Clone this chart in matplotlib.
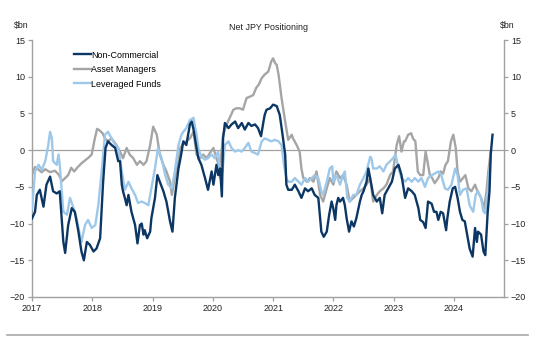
import matplotlib.pyplot as plt
from matplotlib.lines import Line2D

plt.rcParams['font.family'] = ['Liberation Sans', 'DejaVu Sans']

# decimal years and $bn values
nc_t = [2017.00, 2017.05, 2017.08, 2017.13, 2017.19, 2017.24, 2017.30, 2017.35, 2017.41, 2017.46,
        2017.52, 2017.55, 2017.60, 2017.66, 2017.71, 2017.77, 2017.82, 2017.86, 2017.91, 2017.96,
        2018.02, 2018.07, 2018.13, 2018.18, 2018.22, 2018.26, 2018.32, 2018.38, 2018.43, 2018.46,
        2018.49, 2018.51, 2018.54, 2018.57, 2018.60, 2018.62, 2018.65, 2018.71, 2018.75, 2018.79,
        2018.82, 2018.85, 2018.87, 2018.91, 2018.96, 2018.98, 2019.04, 2019.08, 2019.12, 2019.18,
        2019.23, 2019.29, 2019.33, 2019.37, 2019.43, 2019.47, 2019.51, 2019.56, 2019.62, 2019.65,
        2019.68, 2019.73, 2019.76, 2019.81, 2019.87, 2019.92, 2019.98, 2020.01, 2020.06, 2020.09,
        2020.12, 2020.15, 2020.17, 2020.20, 2020.26, 2020.31, 2020.37, 2020.42, 2020.48, 2020.53,
        2020.59, 2020.64, 2020.70, 2020.75, 2020.80, 2020.84, 2020.86, 2020.89, 2020.95, 2021.00,
        2021.06, 2021.11, 2021.15, 2021.20, 2021.22, 2021.25, 2021.31, 2021.36, 2021.42, 2021.47,
        2021.53, 2021.58, 2021.64, 2021.69, 2021.75, 2021.78, 2021.80, 2021.84, 2021.89, 2021.93,
        2021.97, 2022.00, 2022.03, 2022.05, 2022.08, 2022.11, 2022.16, 2022.19, 2022.22, 2022.26,
        2022.30, 2022.34, 2022.38, 2022.44, 2022.47, 2022.50, 2022.55, 2022.58, 2022.61, 2022.63,
        2022.66, 2022.72, 2022.77, 2022.81, 2022.85, 2022.91, 2022.97, 2023.02, 2023.08, 2023.13,
        2023.19, 2023.24, 2023.30, 2023.35, 2023.41, 2023.44, 2023.49, 2023.53, 2023.57, 2023.63,
        2023.67, 2023.71, 2023.74, 2023.78, 2023.82, 2023.87, 2023.89, 2023.93, 2023.98, 2024.02,
        2024.06, 2024.10, 2024.14, 2024.18, 2024.23, 2024.26, 2024.31, 2024.35, 2024.38, 2024.40,
        2024.45, 2024.49, 2024.52, 2024.56, 2024.59, 2024.61, 2024.64]
nc_v = [-9.3, -8.4, -6.1, -5.4, -7.7, -4.7, -3.6, -5.6, -5.9, -5.6,
        -12.5, -14.0, -10.2, -7.9, -8.4, -11.1, -13.8, -15.0, -12.5, -12.9,
        -13.8, -13.4, -12.0, -4.3, 0.3, 1.2, 0.7, 0.3, -1.5, -1.5,
        -4.7, -5.6, -6.5, -7.5, -6.1, -7.0, -8.4, -10.2, -12.7, -10.2,
        -10.0, -11.5, -10.9, -12.0, -11.1, -9.3, -6.5, -3.4, -4.3, -5.6,
        -7.0, -9.7, -11.1, -6.5, -2.5, -0.8, 1.2, 0.7, 3.5, 3.9,
        2.8, 0.3, -1.1, -2.0, -3.8, -5.4, -2.9, -4.7, -2.0, -3.4,
        -2.5, -6.3, 1.6, 3.7, 3.0, 3.5, 3.9, 3.0, 3.7, 2.8,
        3.7, 3.3, 3.5, 3.0, 1.9, 3.9, 4.8, 5.5, 5.7, 6.2,
        6.0, 4.8, 2.5, -0.6, -4.7, -5.4, -5.4, -4.7, -5.6, -6.5,
        -5.2, -5.6, -5.2, -6.1, -6.5, -9.3, -11.1, -11.8, -11.1, -8.8,
        -7.0, -8.0, -9.5, -7.5, -6.5, -7.0, -6.5, -7.5, -9.3, -11.1,
        -9.7, -10.4, -9.3, -7.0, -6.1, -5.6, -4.3, -2.5, -3.8, -4.7,
        -6.1, -7.0, -6.5, -8.6, -6.1, -5.2, -4.3, -2.5, -2.0, -3.4,
        -6.5, -5.2, -5.6, -6.1, -7.9, -9.5, -9.8, -10.6, -7.0, -7.3,
        -8.4, -8.4, -9.5, -8.4, -8.6, -10.9, -9.3, -7.0, -5.2, -5.0,
        -6.5, -8.4, -9.5, -9.7, -12.0, -13.4, -14.5, -10.6, -12.5, -11.1,
        -11.5, -13.8, -14.3, -8.4, -5.6, -0.6, 2.1]

am_t = [2017.00, 2017.05, 2017.10, 2017.16, 2017.22, 2017.30, 2017.38, 2017.44, 2017.50, 2017.55,
        2017.60, 2017.65, 2017.70, 2017.76, 2017.82, 2017.88, 2017.94, 2017.99, 2018.04, 2018.08,
        2018.12, 2018.17, 2018.21, 2018.26, 2018.32, 2018.40, 2018.46, 2018.51, 2018.57, 2018.62,
        2018.68, 2018.74, 2018.79, 2018.85, 2018.90, 2018.96, 2019.01, 2019.07, 2019.12, 2019.18,
        2019.23, 2019.29, 2019.32, 2019.37, 2019.43, 2019.46, 2019.51, 2019.56, 2019.62, 2019.68,
        2019.73, 2019.79, 2019.84, 2019.90, 2019.95, 2020.01, 2020.06, 2020.12, 2020.17, 2020.23,
        2020.28, 2020.34, 2020.39, 2020.45, 2020.50, 2020.56, 2020.62, 2020.67, 2020.72, 2020.76,
        2020.81, 2020.86, 2020.92, 2020.97, 2021.00, 2021.03, 2021.06, 2021.09, 2021.14, 2021.20,
        2021.25, 2021.31, 2021.33, 2021.39, 2021.44, 2021.47, 2021.50, 2021.56, 2021.61, 2021.67,
        2021.72, 2021.78, 2021.83, 2021.89, 2021.94, 2022.00, 2022.05, 2022.11, 2022.16, 2022.22,
        2022.27, 2022.33, 2022.38, 2022.44, 2022.50, 2022.55, 2022.61, 2022.66, 2022.72, 2022.77,
        2022.83, 2022.88, 2022.94, 2022.99, 2023.05, 2023.09, 2023.13, 2023.17, 2023.19, 2023.24,
        2023.29, 2023.32, 2023.36, 2023.40, 2023.44, 2023.49, 2023.53, 2023.56, 2023.60, 2023.64,
        2023.68, 2023.74, 2023.78, 2023.82, 2023.86, 2023.90, 2023.95, 2023.99, 2024.03, 2024.06,
        2024.10, 2024.15, 2024.19, 2024.24, 2024.29, 2024.35, 2024.39, 2024.45, 2024.50, 2024.54,
        2024.57, 2024.61]
am_v = [-3.4, -2.3, -2.6, -3.0, -2.6, -3.0, -2.8, -3.3, -4.2, -3.8,
        -3.4, -2.4, -2.9, -2.3, -1.8, -1.4, -1.0, -0.6, 1.5, 2.9,
        2.7, 2.3, 1.6, 1.2, 1.6, 0.7, -0.2, -1.1, 0.3, -0.6,
        -1.1, -2.0, -1.5, -2.0, -1.5, 0.7, 3.2, 2.1, -0.6, -2.0,
        -2.9, -4.3, -6.1, -3.8, -1.5, 0.3, 1.0, 1.2, 1.6, 2.5,
        -0.6, -1.1, -0.6, -1.1, -0.4, 0.3, -1.1, -2.5, 2.1, 3.5,
        4.4, 5.5, 5.7, 5.7, 5.5, 7.1, 7.3, 7.5, 8.5, 8.9,
        9.8, 10.3, 10.7, 12.1, 12.5, 11.9, 11.6, 10.3, 7.1, 3.9,
        1.4, 2.1, 1.6, 0.7, -0.2, -2.5, -3.8, -4.3, -3.8, -4.3,
        -2.9, -6.1, -7.0, -5.2, -3.8, -4.7, -2.9, -3.8, -3.4, -4.7,
        -7.0, -6.5, -6.1, -5.6, -5.2, -4.7, -3.8, -7.0, -6.1, -5.6,
        -5.2, -4.7, -3.4, -2.9, 0.7, 1.9, -0.2, 1.2, 1.2, 2.1,
        2.3, 1.6, 1.2, -2.9, -3.4, -3.4, -0.2, -1.5, -3.4, -3.8,
        -4.5, -3.8, -2.9, -3.2, -2.0, -1.5, 1.2, 2.1, 0.3, -2.9,
        -4.3, -3.8, -3.4, -5.2, -5.6, -4.7, -5.6, -6.5, -7.9, -5.6,
        -2.9, -0.2]

lf_t = [2017.00, 2017.03, 2017.05, 2017.11, 2017.16, 2017.22, 2017.27, 2017.30, 2017.33, 2017.35,
        2017.41, 2017.44, 2017.46, 2017.52, 2017.58, 2017.63, 2017.69, 2017.74, 2017.80, 2017.82,
        2017.88, 2017.93, 2017.99, 2018.05, 2018.10, 2018.16, 2018.21, 2018.26, 2018.32, 2018.38,
        2018.43, 2018.49, 2018.54, 2018.60, 2018.65, 2018.71, 2018.76, 2018.82, 2018.87, 2018.93,
        2018.98, 2019.04, 2019.09, 2019.15, 2019.21, 2019.26, 2019.32, 2019.37, 2019.43, 2019.48,
        2019.51, 2019.56, 2019.62, 2019.68, 2019.70, 2019.73, 2019.76, 2019.81, 2019.87, 2019.92,
        2019.98, 2020.03, 2020.09, 2020.12, 2020.16, 2020.20, 2020.26, 2020.31, 2020.37, 2020.42,
        2020.48, 2020.53, 2020.59, 2020.64, 2020.70, 2020.75, 2020.81, 2020.86, 2020.92, 2020.97,
        2021.03, 2021.09, 2021.14, 2021.18, 2021.22, 2021.25, 2021.31, 2021.36, 2021.42, 2021.47,
        2021.53, 2021.58, 2021.64, 2021.69, 2021.75, 2021.80, 2021.83, 2021.89, 2021.94, 2021.98,
        2022.00, 2022.05, 2022.11, 2022.16, 2022.19, 2022.23, 2022.27, 2022.33, 2022.38, 2022.44,
        2022.50, 2022.55, 2022.61, 2022.63, 2022.66, 2022.72, 2022.77, 2022.83, 2022.88, 2022.94,
        2022.99, 2023.03, 2023.08, 2023.13, 2023.19, 2023.24, 2023.30, 2023.35, 2023.41, 2023.46,
        2023.52, 2023.57, 2023.63, 2023.68, 2023.74, 2023.79, 2023.85, 2023.90, 2023.96, 2024.02,
        2024.06, 2024.10, 2024.15, 2024.21, 2024.26, 2024.32, 2024.36, 2024.40, 2024.45, 2024.49,
        2024.52, 2024.56, 2024.60, 2024.61]
lf_v = [-8.0, -5.0, -2.9, -2.0, -2.7, -1.5, 0.7, 2.5, 1.6, -1.5,
        -2.0, -0.6, -2.0, -8.4, -8.8, -6.5, -7.9, -9.3, -11.8, -12.5,
        -10.2, -9.5, -10.6, -10.2, -7.5, -2.5, 2.1, 2.5, 1.6, 0.7,
        0.3, -2.9, -5.4, -4.3, -5.2, -6.1, -7.2, -7.0, -7.2, -7.5,
        -5.2, -2.5, 0.3, -1.1, -3.4, -4.7, -5.2, -2.9, 0.7, 2.1,
        2.5, 3.0, 4.1, 4.4, 3.4, 2.1, 0.3, -0.9, -1.3, -1.1,
        -0.6, -1.1, -0.2, -3.8, -2.9, 0.7, 1.2, 0.3, -0.2, 0.0,
        -0.2, 0.3, 1.0, -0.2, -0.4, -0.6, 1.2, 1.6, 1.4, 1.2,
        1.4, 1.2, 0.7, -2.0, -3.8, -4.3, -4.3, -3.8, -4.3, -4.7,
        -3.8, -4.3, -3.8, -3.4, -3.8, -5.6, -6.1, -4.3, -2.5, -2.2,
        -4.3, -3.4, -4.7, -3.4, -2.9, -6.5, -7.0, -6.1, -6.1, -4.7,
        -3.8, -2.9, -0.9, -1.1, -2.5, -2.5, -2.2, -2.9, -2.0, -1.5,
        -1.1, -0.6, -2.5, -3.8, -4.3, -3.8, -4.3, -3.8, -4.3, -3.8,
        -5.0, -3.8, -3.4, -3.2, -2.9, -3.4, -5.2, -5.4, -4.7, -2.5,
        -3.4, -6.1, -5.4, -5.2, -7.5, -8.4, -6.1, -5.6, -6.5, -8.4,
        -8.6, -5.6, -2.0, -0.2]

years = [2017, 2018, 2019, 2020, 2021, 2022, 2023, 2024]
yticks = [-20, -15, -10, -5, 0, 5, 10, 15]

navy = '#0c3764'
grey = '#a5a5a5'
light = '#9dc8ea'
axis_col = '#a0a0a0'

fig = plt.figure(figsize=(5.37, 3.42), dpi=100)
ax = fig.add_axes([0.0596, 0.1316, 0.8789, 0.7514])

ax.axhline(0, color=axis_col, lw=0.9, zorder=1)
l1, = ax.plot(nc_t, nc_v, color=navy, lw=1.7, zorder=4)
l2, = ax.plot(am_t, am_v, color=grey, lw=1.7, zorder=2)
l3, = ax.plot(lf_t, lf_v, color=light, lw=1.7, zorder=3)

ax.set_xlim(2017, 2024.83)
ax.set_ylim(-20, 15)
ax.set_xticks(years)
ax.set_xticklabels([str(y) for y in years])
ax.set_yticks(yticks)

for s in ['left', 'right', 'bottom']:
    ax.spines[s].set_color(axis_col)
    ax.spines[s].set_linewidth(1.0)
ax.spines['top'].set_visible(False)
ax.tick_params(axis='both', colors=axis_col, labelcolor='#222222', labelsize=6.5,
               length=3, width=0.9, direction='out', pad=2)
ax.tick_params(axis='y', right=True, labelright=True)

ax.legend([l1, l2, l3], ['Non-Commercial', 'Asset Managers', 'Leveraged Funds'],
          loc='upper left', bbox_to_anchor=(0.081, 0.973), frameon=False,
          fontsize=6.4, handlelength=1.9, handletextpad=0.05, labelspacing=0.62,
          borderaxespad=0)

fig.text(0.5, 0.921, 'Net JPY Positioning', ha='center', va='center', fontsize=6.4, color='#222222')
fig.text(0.040, 0.926, '$bn', ha='center', va='center', fontsize=6.3, color='#222222')
fig.text(0.944, 0.926, '$bn', ha='center', va='center', fontsize=6.3, color='#222222')

fig.add_artist(Line2D([0.013, 0.984], [0.021, 0.021], color='#a8a8a8', lw=1.2))

fig.savefig('out.png', dpi=100)
